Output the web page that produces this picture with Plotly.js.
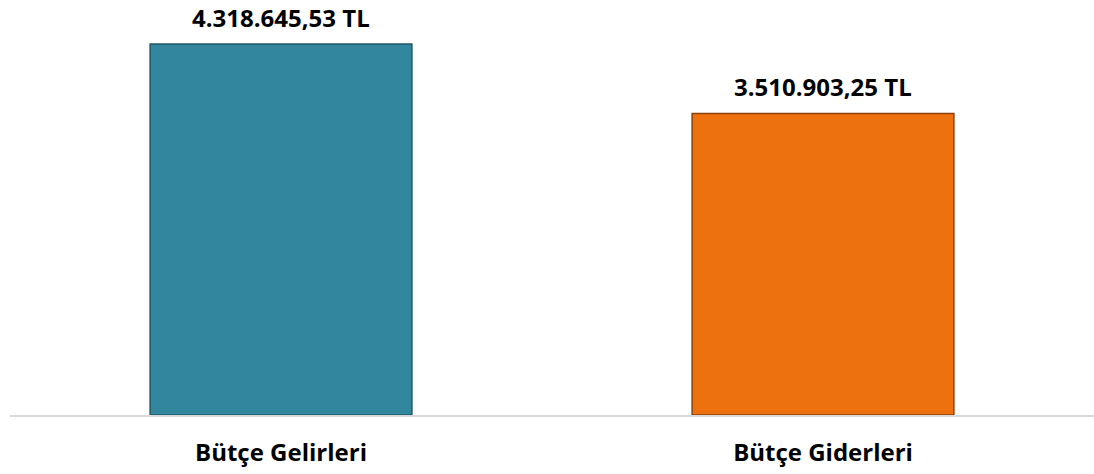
<!DOCTYPE html>
<html>
<head>
<meta charset="utf-8">
<script src="https://cdn.plot.ly/plotly-3.0.1.min.js"></script>
<style>html,body{margin:0;padding:0;background:#fff;}#chart{width:1094px;height:474px;}</style>
</head>
<body>
<div id="chart"></div>
<script>
var categories = ["Bütçe Gelirleri", "Bütçe Giderleri"];
var values = [4318645.53, 3510903.25];
var valueLabels = ["4.318.645,53 TL", "3.510.903,25 TL"];
var barColors = ["#32869E", "#EE7110"];
var edgeColors = ["#1F5766", "#8A4209"];

var font = "'Open Sans', 'Liberation Sans', sans-serif";

var trace = {
  type: "bar",
  x: categories,
  y: values,
  width: 0.483,
  marker: { color: barColors, line: { color: edgeColors, width: 1.5 } },
  hoverinfo: "none"
};

var annotations = categories.map(function (c, i) {
  return {
    x: c, y: values[i], xref: "x", yref: "y",
    text: "<b>" + valueLabels[i] + "</b>",
    showarrow: false, yanchor: "bottom", yshift: 9, borderpad: 0,
    font: { family: font, size: 24, color: "#000" }
  };
});

var layout = {
  width: 1094, height: 474,
  margin: { l: 10, r: 0, t: 10, b: 59 },
  paper_bgcolor: "#fff", plot_bgcolor: "#fff",
  showlegend: false,
  bargap: 0,
  xaxis: {
    type: "category",
    showline: true, linecolor: "#D9D9D9", linewidth: 2,
    ticks: "", showgrid: false, zeroline: false,
    ticklabelstandoff: 15,
    tickfont: { family: font, size: 24, color: "#000" },
    tickvals: categories,
    ticktext: categories.map(function (c) { return "<b>" + c + "</b>"; })
  },
  yaxis: {
    range: [0, 4318645.53 * 405 / 371],
    visible: false, showgrid: false, zeroline: false
  },
  annotations: annotations
};

Plotly.newPlot("chart", [trace], layout, { staticPlot: true, displayModeBar: false });
</script>
</body>
</html>
